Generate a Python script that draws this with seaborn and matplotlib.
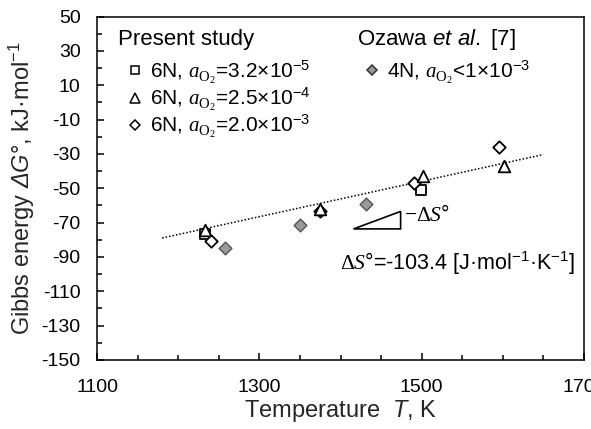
import numpy as np
import pandas as pd
import matplotlib
matplotlib.use("Agg")
import matplotlib.pyplot as plt
from matplotlib.lines import Line2D
from matplotlib.patches import Polygon
from matplotlib.ticker import MultipleLocator
import seaborn as sns

# Present study (6N samples), temperature in K and Gibbs energy in kJ/mol
temp_sq = [1233, 1499]
dg_sq = [-76.6, -51.3]
temp_tri = [1233, 1374, 1501, 1601]
dg_tri = [-74.1, -62.1, -42.7, -36.9]
temp_dia = [1240, 1374, 1490, 1595]
dg_dia = [-80.5, -63.5, -47.0, -26.0]

# Ozawa et al. [7] (4N)
temp_oz = [1257, 1350, 1431]
dg_oz = [-84.8, -71.2, -59.2]

# linear fit: slope = -dS (kJ/mol/K)
fit_slope = 0.1034
fit_intercept = -201.0
fit_range = [1180, 1650]

# a_O2 written with serif italic a (cal slot) and serif O2 (sf slot)
A_O2 = r"\mathcal{a}_{\mathsf{O}_{\mathsf{2}}}"
labels_present = ["6N, $" + A_O2 + "$=3.2×10$^{-5}$",
                  "6N, $" + A_O2 + "$=2.5×10$^{-4}$",
                  "6N, $" + A_O2 + "$=2.0×10$^{-3}$"]
label_oz = "4N, $" + A_O2 + "$<1×10$^{-3}$"

sns.set_theme(style="ticks")
plt.rcParams.update({
    "font.family": ["Liberation Sans", "DejaVu Sans"],
    "mathtext.fontset": "custom",
    "mathtext.rm": "Liberation Sans",
    "mathtext.it": "Liberation Sans:italic",
    "mathtext.bf": "Liberation Sans:italic",
    "mathtext.cal": "Liberation Serif:italic",
    "mathtext.sf": "Liberation Serif",
    "axes.unicode_minus": False,
    "axes.edgecolor": "black",
    "axes.linewidth": 1.1,
    "xtick.color": "black",
    "ytick.color": "black",
    "text.color": "black",
})

fig, ax = plt.subplots(figsize=(5.91, 4.29), dpi=100)
fig.subplots_adjust(left=0.1646, right=0.988, top=0.9615, bottom=0.161)

# fit line
fit_T = np.array(fit_range)
ax.plot(fit_T, fit_slope * fit_T + fit_intercept, color="black",
        linestyle=(0, (1, 1.3)), lw=1.1, zorder=2)

sns.scatterplot(x=temp_oz, y=dg_oz, marker="D", s=42, color="#9a9a9a",
                edgecolor="#555555", linewidth=1.0, ax=ax, zorder=3)
sns.scatterplot(x=temp_sq, y=dg_sq, marker="s", s=60, color="white",
                edgecolor="black", linewidth=1.3, ax=ax, zorder=3)
sns.scatterplot(x=temp_dia, y=dg_dia, marker="D", s=40, color="white",
                edgecolor="black", linewidth=1.3, ax=ax, zorder=4)
sns.scatterplot(x=temp_tri, y=dg_tri, marker="^", s=70, color="white",
                edgecolor="black", linewidth=1.3, ax=ax, zorder=5)

# slope triangle
tri = Polygon([[1416, -73.7], [1474, -73.7], [1474, -63.5]], closed=True,
              fill=False, edgecolor="black", lw=1.2)
ax.add_patch(tri)
ax.text(1478, -66.0, r"$\mathsf{−Δ}\mathcal{S}$°",
        fontsize=15.5, va="center", ha="left")
ax.text(1399, -93.5, r"$\mathsf{Δ}\mathcal{S}$°=-103.4 [J·mol$^{-1}$·K$^{-1}$]",
        fontsize=15.5, va="center", ha="left")

ax.set_xlim(1100, 1700)
ax.set_ylim(-150, 50)
ax.xaxis.set_major_locator(MultipleLocator(200, offset=100))
ax.xaxis.set_minor_locator(MultipleLocator(50))
ax.yaxis.set_major_locator(MultipleLocator(20, offset=10))
ax.yaxis.set_minor_locator(MultipleLocator(10))
ax.tick_params(which="major", direction="in", length=5, width=1.1, labelsize=14)
ax.tick_params(which="minor", direction="in", length=3.5, width=1.1)
ax.tick_params(axis="y", which="major", pad=12)
ax.tick_params(axis="x", which="major", pad=14)
for s in ax.spines.values():
    s.set_visible(True)

ax.set_xlabel("Temperature  $T$, K", fontsize=17, labelpad=1)
ax.set_ylabel("Gibbs energy $\\mathbf{ΔG}$°, kJ·mol$^{-1}$", fontsize=17, labelpad=3)

# legend headers
ax.text(0.0427, 0.932, "Present study", transform=ax.transAxes,
        fontsize=16, va="center", ha="left")
ax.text(0.534, 0.932, "Ozawa $et\\ al.$ [7]", transform=ax.transAxes,
        fontsize=16, va="center", ha="left")

# legends
leg_kw = dict(frameon=False, fontsize=15, handlelength=1.0,
              handletextpad=0.2, labelspacing=-0.02, borderpad=0,
              borderaxespad=0)
h_present = [
    Line2D([], [], ls="", marker="s", ms=6, mfc="white", mec="black", mew=1.1),
    Line2D([], [], ls="", marker="^", ms=7, mfc="white", mec="black", mew=1.1),
    Line2D([], [], ls="", marker="D", ms=5.5, mfc="white", mec="black", mew=1.1),
]
leg1 = ax.legend(h_present, labels_present, loc="upper left",
                 bbox_to_anchor=(0.0562, 0.879), **leg_kw)
ax.add_artist(leg1)

h_oz = [Line2D([], [], ls="", marker="D", ms=5.5, mfc="#9a9a9a", mec="#333333", mew=1.1)]
leg2 = ax.legend(h_oz, [label_oz], loc="upper left",
                 bbox_to_anchor=(0.543, 0.879), **leg_kw)

fig.savefig("out.png", dpi=100)
